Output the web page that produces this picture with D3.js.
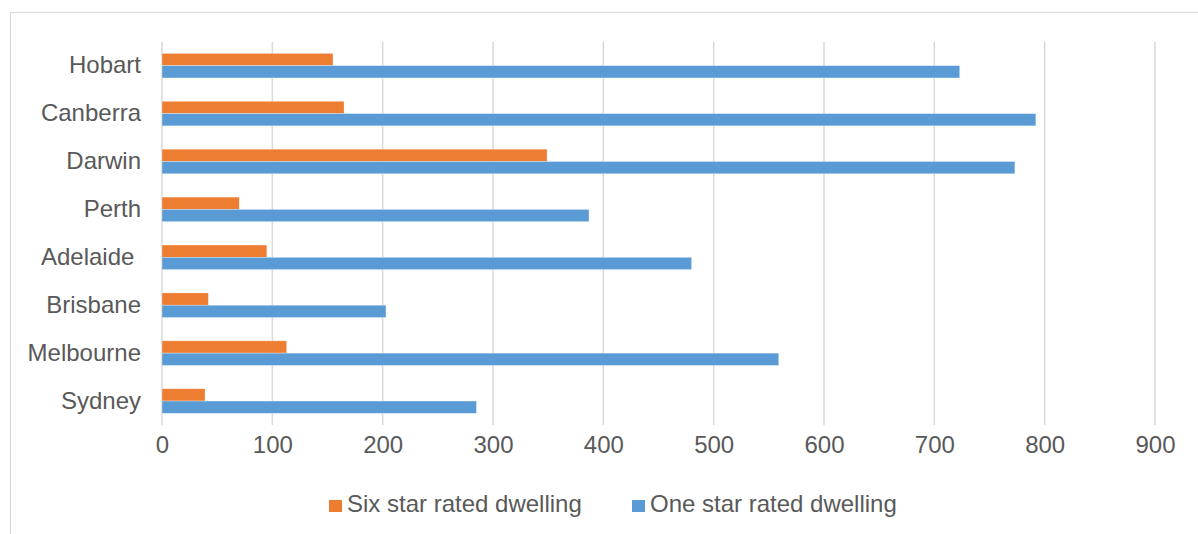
<!DOCTYPE html>
<html>
<head>
<meta charset="utf-8">
<script src="https://cdn.jsdelivr.net/npm/d3@7"></script>
<style>
  body { margin: 0; background: #fff; }
  svg { display: block; font-family: 'Liberation Sans', Arial, sans-serif; }
</style>
</head>
<body>
<div id="chart"><svg width="1198" height="534"></svg></div>
<script>
// data, bottom to top as in the sheet
const CITIES = ['Sydney', 'Melbourne', 'Brisbane', 'Adelaide ', 'Perth', 'Darwin', 'Canberra', 'Hobart'];
const SIX_STAR = [39, 113, 42, 95, 70, 349, 165, 155];
const ONE_STAR = [285, 559, 203, 480, 387, 773, 792, 723];
const X_TICKS = [0, 100, 200, 300, 400, 500, 600, 700, 800, 900];
const SERIES = ['Six star rated dwelling', 'One star rated dwelling'];
const COLORS = ['#ED7D31', '#5B9BD5'];

const SVG = d3.select('#chart svg');
const LEFT = 162;
const RIGHT = 1155;
const TOP = 41.7;
const BOTTOM = 425;
const FONT = "'Liberation Sans', Arial, sans-serif";

// chart border
SVG.append('rect')
  .attr('x', 10.5)
  .attr('y', 12.5)
  .attr('width', 1200)
  .attr('height', 540)
  .style('fill', 'none')
  .style('stroke', '#D9D9D9')
  .style('stroke-width', 1.2);

const X_SCALE = d3.scaleLinear().domain([0, 900]).range([LEFT, RIGHT]);
const Y_SCALE = d3.scaleBand()
  .domain(CITIES.slice().reverse())
  .range([TOP, BOTTOM])
  .paddingInner(0.487)
  .paddingOuter(0.2435);
const SUB = d3.scaleBand().domain([0, 1]).range([0, Y_SCALE.bandwidth()]);

// gridlines
SVG.append('g')
  .attr('id', 'grid')
  .selectAll('line')
  .data(X_TICKS)
  .join('line')
  .attr('x1', (d) => X_SCALE(d))
  .attr('x2', (d) => X_SCALE(d))
  .attr('y1', TOP)
  .attr('y2', BOTTOM)
  .style('stroke', '#D9D9D9')
  .style('stroke-width', 1.5);

// x axis labels
const X_AXIS = d3.axisBottom(X_SCALE).tickValues(X_TICKS).tickSize(0).tickPadding(0);
const X_AXIS_G = SVG.append('g')
  .attr('id', 'xAxis')
  .attr('transform', `translate(0, ${BOTTOM + 11})`);
X_AXIS(X_AXIS_G);
X_AXIS_G.select('.domain').remove();
X_AXIS_G.selectAll('text')
  .style('font-family', FONT)
  .style('font-size', '24px')
  .style('fill', '#595959');

// y axis labels
const Y_AXIS = d3.axisLeft(Y_SCALE).tickSize(0).tickPadding(0);
const Y_AXIS_G = SVG.append('g')
  .attr('id', 'yAxis')
  .attr('transform', `translate(${LEFT - 21}, 0)`);
Y_AXIS(Y_AXIS_G);
Y_AXIS_G.select('.domain').remove();
Y_AXIS_G.selectAll('text')
  .attr('dy', '0.32em')
  .style('white-space', 'pre')
  .style('font-family', FONT)
  .style('font-size', '24px')
  .style('fill', '#595959');

// bars
const CHART = SVG.append('g').attr('id', 'bars');
[SIX_STAR, ONE_STAR].forEach((values, s) => {
  CHART.append('g')
    .selectAll('rect')
    .data(values)
    .join('rect')
    .attr('x', X_SCALE(0))
    .attr('y', (d, i) => Y_SCALE(CITIES[i]) + SUB(s))
    .attr('width', (d) => X_SCALE(d) - X_SCALE(0))
    .attr('height', SUB.bandwidth())
    .style('fill', COLORS[s])
    .style('stroke', '#fff')
    .style('stroke-opacity', 0.5)
    .style('stroke-width', 0.6);
});

// legend
const LEGEND_X = [329, 632];
const LEGEND = SVG.append('g').attr('id', 'legend');
SERIES.forEach((name, i) => {
  LEGEND.append('rect')
    .attr('x', LEGEND_X[i])
    .attr('y', 500)
    .attr('width', 13)
    .attr('height', 12)
    .style('fill', COLORS[i]);
  LEGEND.append('text')
    .attr('x', LEGEND_X[i] + 18)
    .attr('y', 512)
    .text(name)
    .style('font-family', FONT)
    .style('font-size', '24px')
    .style('fill', '#595959');
});
</script>
</body>
</html>
